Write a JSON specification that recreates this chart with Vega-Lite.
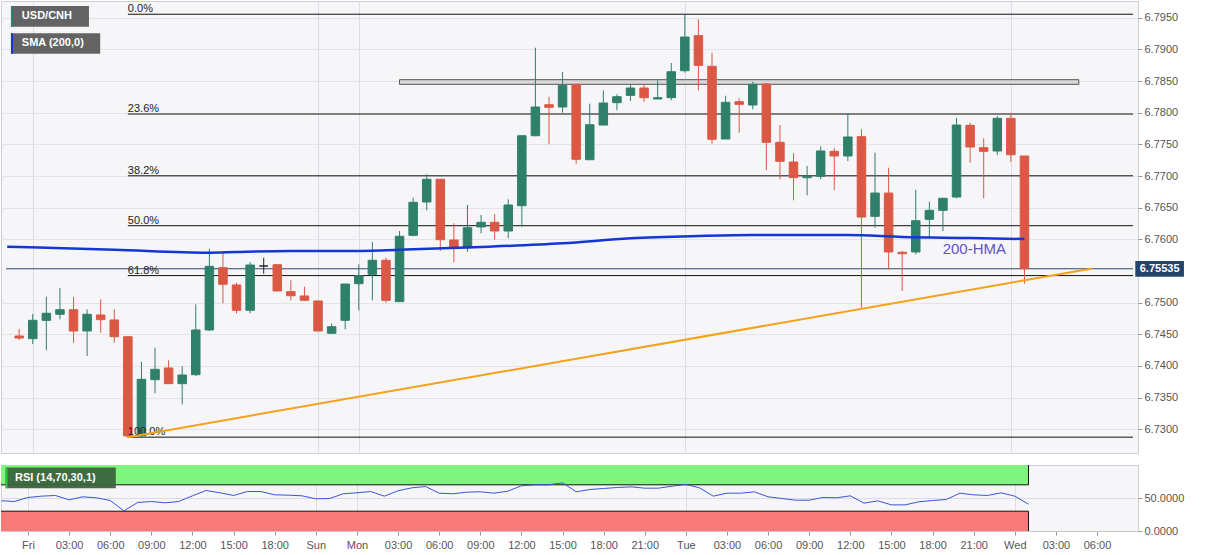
{
  "$schema": "https://vega.github.io/schema/vega-lite/v6.json",
  "padding": 0,
  "spacing": 10,
  "background": "#ffffff",
  "config": {
    "padding": 0,
    "view": {"fill": "#f6f6f8", "stroke": "#cfcfd6"},
    "font": "Liberation Sans",
    "text": {"font": "Liberation Sans"},
    "axis": {"labelOverlap": false, "title": null, "labelFont": "Liberation Sans", "labelFontSize": 11, "labelColor": "#555555", "tickColor": "#999999", "tickSize": 4},
    "axisY": {"format": ".4f", "labelOverlap": false, "orient": "right", "domain": false, "labelPadding": 2, "gridColor": "#e3e3e8"}
  },
  "datasets": {
    "candles": [
      {"i":-1,"o":6.74473,"h":6.74584,"l":6.7441,"c":6.74441},
      {"i":0,"o":6.74431,"h":6.7482,"l":6.74347,"c":6.74721},
      {"i":1,"o":6.7472,"h":6.75094,"l":6.74247,"c":6.74832},
      {"i":2,"o":6.74816,"h":6.75231,"l":6.74737,"c":6.74888},
      {"i":3,"o":6.74888,"h":6.75089,"l":6.74367,"c":6.74552},
      {"i":4,"o":6.74552,"h":6.74895,"l":6.74157,"c":6.74816},
      {"i":5,"o":6.74805,"h":6.75053,"l":6.74525,"c":6.74731},
      {"i":6,"o":6.74726,"h":6.74895,"l":6.74367,"c":6.74462},
      {"i":7,"o":6.74462,"h":6.74462,"l":6.72862,"c":6.72894},
      {"i":8,"o":6.72894,"h":6.74067,"l":6.72867,"c":6.73789},
      {"i":9,"o":6.73783,"h":6.74288,"l":6.73568,"c":6.73947},
      {"i":10,"o":6.73968,"h":6.74089,"l":6.7372,"c":6.7372},
      {"i":11,"o":6.7372,"h":6.73995,"l":6.73394,"c":6.73857},
      {"i":12,"o":6.73862,"h":6.74974,"l":6.73841,"c":6.74568},
      {"i":13,"o":6.74568,"h":6.75852,"l":6.74552,"c":6.75574},
      {"i":14,"o":6.75552,"h":6.75815,"l":6.7499,"c":6.7529},
      {"i":15,"o":6.75279,"h":6.75315,"l":6.74832,"c":6.74879},
      {"i":16,"o":6.74879,"h":6.75642,"l":6.74832,"c":6.75594},
      {"i":17,"o":6.75579,"h":6.7571,"l":6.75457,"c":6.75579},
      {"i":18,"o":6.75599,"h":6.75599,"l":6.75184,"c":6.75184},
      {"i":19,"o":6.75173,"h":6.75353,"l":6.75037,"c":6.75109},
      {"i":20,"o":6.75105,"h":6.75252,"l":6.75037,"c":6.75037},
      {"i":21,"o":6.75026,"h":6.75026,"l":6.74552,"c":6.74552},
      {"i":22,"o":6.74516,"h":6.74674,"l":6.74516,"c":6.7462},
      {"i":23,"o":6.74721,"h":6.75294,"l":6.74579,"c":6.75294},
      {"i":24,"o":6.75299,"h":6.75605,"l":6.74879,"c":6.75425},
      {"i":25,"o":6.75447,"h":6.75958,"l":6.75037,"c":6.75669},
      {"i":26,"o":6.75669,"h":6.7571,"l":6.74999,"c":6.75037},
      {"i":27,"o":6.75015,"h":6.76131,"l":6.75015,"c":6.76048},
      {"i":28,"o":6.76063,"h":6.76657,"l":6.76048,"c":6.76585},
      {"i":29,"o":6.76589,"h":6.77027,"l":6.76458,"c":6.76948},
      {"i":30,"o":6.76948,"h":6.76948,"l":6.75815,"c":6.75994},
      {"i":31,"o":6.75989,"h":6.76253,"l":6.75637,"c":6.75879},
      {"i":32,"o":6.75868,"h":6.76542,"l":6.75804,"c":6.76183},
      {"i":33,"o":6.76195,"h":6.76384,"l":6.76095,"c":6.76269},
      {"i":34,"o":6.76269,"h":6.76395,"l":6.75994,"c":6.76131},
      {"i":35,"o":6.76131,"h":6.76632,"l":6.76016,"c":6.76542},
      {"i":36,"o":6.76531,"h":6.77636,"l":6.76199,"c":6.77636},
      {"i":37,"o":6.77636,"h":6.79026,"l":6.77627,"c":6.7809},
      {"i":38,"o":6.78126,"h":6.78252,"l":6.77501,"c":6.78085},
      {"i":39,"o":6.7809,"h":6.78642,"l":6.78,"c":6.78432},
      {"i":40,"o":6.78448,"h":6.78448,"l":6.77194,"c":6.77264},
      {"i":41,"o":6.77257,"h":6.78142,"l":6.77257,"c":6.7781},
      {"i":42,"o":6.77805,"h":6.78353,"l":6.77805,"c":6.78153},
      {"i":43,"o":6.78158,"h":6.7829,"l":6.78038,"c":6.78252},
      {"i":44,"o":6.78274,"h":6.78437,"l":6.78184,"c":6.7839},
      {"i":45,"o":6.7839,"h":6.78448,"l":6.78173,"c":6.78237},
      {"i":46,"o":6.78216,"h":6.78511,"l":6.78216,"c":6.78237},
      {"i":47,"o":6.78237,"h":6.78785,"l":6.78195,"c":6.78647},
      {"i":48,"o":6.78663,"h":6.79543,"l":6.78631,"c":6.79195},
      {"i":49,"o":6.79216,"h":6.79475,"l":6.78353,"c":6.78748},
      {"i":50,"o":6.78732,"h":6.78947,"l":6.7751,"c":6.7758},
      {"i":51,"o":6.77584,"h":6.78268,"l":6.77584,"c":6.78164},
      {"i":52,"o":6.78173,"h":6.78227,"l":6.77684,"c":6.78132},
      {"i":53,"o":6.78121,"h":6.78489,"l":6.78053,"c":6.78448},
      {"i":54,"o":6.78453,"h":6.78473,"l":6.7709,"c":6.77532},
      {"i":55,"o":6.77532,"h":6.77805,"l":6.76948,"c":6.77232},
      {"i":56,"o":6.77221,"h":6.77358,"l":6.76616,"c":6.76973},
      {"i":57,"o":6.76973,"h":6.77158,"l":6.76695,"c":6.76995},
      {"i":58,"o":6.76995,"h":6.77469,"l":6.76948,"c":6.77395},
      {"i":59,"o":6.7739,"h":6.77447,"l":6.76774,"c":6.77316},
      {"i":60,"o":6.77316,"h":6.77984,"l":6.77237,"c":6.77616},
      {"i":61,"o":6.77621,"h":6.77738,"l":6.7492,"c":6.76352},
      {"i":62,"o":6.76363,"h":6.77368,"l":6.76183,"c":6.76731},
      {"i":63,"o":6.76731,"h":6.77131,"l":6.75526,"c":6.758},
      {"i":64,"o":6.75795,"h":6.75815,"l":6.75184,"c":6.75773},
      {"i":65,"o":6.758,"h":6.76784,"l":6.75763,"c":6.76294},
      {"i":66,"o":6.76316,"h":6.76594,"l":6.76016,"c":6.76458},
      {"i":67,"o":6.76458,"h":6.76648,"l":6.76131,"c":6.76648},
      {"i":68,"o":6.76668,"h":6.77921,"l":6.76648,"c":6.77805},
      {"i":69,"o":6.778,"h":6.77842,"l":6.7721,"c":6.77458},
      {"i":70,"o":6.77447,"h":6.77595,"l":6.76648,"c":6.7739},
      {"i":71,"o":6.77395,"h":6.77948,"l":6.77332,"c":6.77911},
      {"i":72,"o":6.77911,"h":6.78,"l":6.77221,"c":6.77336},
      {"i":73,"o":6.77316,"h":6.77316,"l":6.75299,"c":6.75535}
    ],
    "sma": [
      {"i":-1.88,"v":6.75883},{"i":6,"v":6.75836},{"i":13,"v":6.75789},{"i":15,"v":6.758},
      {"i":19,"v":6.75815},{"i":23,"v":6.75815},{"i":28,"v":6.75842},{"i":33,"v":6.75879},
      {"i":39,"v":6.75937},{"i":44,"v":6.76016},{"i":49,"v":6.76052},{"i":53,"v":6.76068},
      {"i":60,"v":6.76068},{"i":64,"v":6.76037},{"i":69,"v":6.76021},{"i":73,"v":6.76005}
    ],
    "fib": [
      {"level":"0.0%","price":6.79555},
      {"level":"23.6%","price":6.77979},
      {"level":"38.2%","price":6.77003},
      {"level":"50.0%","price":6.76215},
      {"level":"61.8%","price":6.75427},
      {"level":"100.0%","price":6.72875}
    ],
    "trend": [
      {"i":7,"price":6.72875},
      {"i":78,"price":6.7554}
    ],
    "rsi": [
      {"i":-1.93,"r":45.8},{"i":-1,"r":44.7},{"i":0,"r":50.8},{"i":1,"r":52.8},{"i":2,"r":53.8},
      {"i":3,"r":47.2},{"i":4,"r":51.8},{"i":5,"r":50.3},{"i":6,"r":46.2},{"i":7,"r":30.6},
      {"i":8,"r":43.2},{"i":9,"r":44.7},{"i":10,"r":42.7},{"i":11,"r":44.7},{"i":12,"r":53.3},
      {"i":13,"r":61.4},{"i":14,"r":57.9},{"i":15,"r":53.8},{"i":16,"r":59.8},{"i":17,"r":59.8},
      {"i":18,"r":54.8},{"i":19,"r":54.3},{"i":20,"r":53.3},{"i":21,"r":48.8},{"i":22,"r":49.2},
      {"i":23,"r":56.4},{"i":24,"r":57.9},{"i":25,"r":59.8},{"i":26,"r":52.8},{"i":27,"r":60.9},
      {"i":28,"r":65.4},{"i":29,"r":67.4},{"i":30,"r":57.3},{"i":31,"r":56.4},{"i":32,"r":58.8},
      {"i":33,"r":59.4},{"i":34,"r":57.3},{"i":35,"r":60.3},{"i":36,"r":68.5},{"i":37,"r":70},
      {"i":38,"r":70},{"i":39,"r":73},{"i":40,"r":59.4},{"i":41,"r":62.9},{"i":42,"r":64.4},
      {"i":43,"r":65.9},{"i":44,"r":66.9},{"i":45,"r":64.9},{"i":46,"r":64.9},{"i":47,"r":67.9},
      {"i":48,"r":70.5},{"i":49,"r":65.4},{"i":50,"r":52.8},{"i":51,"r":57.3},{"i":52,"r":57.3},
      {"i":53,"r":59.3},{"i":54,"r":51.8},{"i":55,"r":49.2},{"i":56,"r":46.7},{"i":57,"r":46.7},
      {"i":58,"r":50.8},{"i":59,"r":50.3},{"i":60,"r":53.3},{"i":61,"r":42.2},{"i":62,"r":45.7},
      {"i":63,"r":39.6},{"i":64,"r":39.6},{"i":65,"r":44.2},{"i":66,"r":46.2},{"i":67,"r":47.7},
      {"i":68,"r":57.3},{"i":69,"r":54.8},{"i":70,"r":53.8},{"i":71,"r":57.8},{"i":72,"r":52.8},
      {"i":73,"r":40.7}
    ]
  },
  "vconcat": [
    {
      "width": 1137,
      "height": 452,
      "layer": [
        {
          "data": {"name": "fib"},
          "mark": {"type": "rule", "color": "#111111", "strokeWidth": 1},
          "encoding": {
            "x": {"datum": 7, "type": "quantitative",
                  "scale": {"domain": [-1.97, 80.99], "nice": false, "zero": false},
                  "axis": {"values": [0, 21, 24, 48, 72], "tickCount": 40, "labels": false, "ticks": false, "domain": false, "grid": true, "gridColor": "#dcdce2", "title": null}},
            "x2": {"datum": 80.99},
            "y": {"field": "price", "type": "quantitative",
                  "scale": {"domain": [6.72625, 6.79764], "nice": false, "zero": false},
                  "axis": {"orient": "right", "values": [6.73, 6.735, 6.74, 6.745, 6.75, 6.76, 6.765, 6.77, 6.775, 6.78, 6.785, 6.79, 6.795],
                           "tickCount": 30, "format": ".4f", "grid": true, "gridColor": "#e3e3e8", "domain": false, "tickSize": 4, "tickColor": "#999999",
                           "labelOverlap": false, "labelFontSize": 11, "labelColor": "#555555", "labelPadding": 2, "labelFont": "Liberation Sans", "title": null}}
          }
        },
        {
          "data": {"values": [{}]},
          "mark": {"type": "rect", "fill": "#d9d9dc", "stroke": "#555555", "strokeWidth": 1},
          "encoding": {
            "x": {"datum": 27, "type": "quantitative"}, "x2": {"datum": 77},
            "y": {"datum": 6.78448, "type": "quantitative"}, "y2": {"datum": 6.78521}
          }
        },
        {
          "data": {"values": [{}]},
          "mark": {"type": "rule", "color": "#2d4a70", "strokeWidth": 1},
          "encoding": {
            "x": {"datum": -1.97, "type": "quantitative"}, "x2": {"datum": 80.99},
            "y": {"datum": 6.75535, "type": "quantitative"}
          }
        },
        {
          "data": {"name": "candles"},
          "mark": {"type": "rule", "strokeWidth": 1, "clip": true},
          "encoding": {
            "x": {"field": "i", "type": "quantitative"},
            "y": {"field": "l", "type": "quantitative"},
            "y2": {"field": "h"},
            "color": {"condition": [{"test": "datum.c == datum.o", "value": "#222222"}, {"test": "datum.c > datum.o", "value": "#2f806b"}], "value": "#db5844"}
          }
        },
        {
          "data": {"name": "candles"},
          "mark": {"type": "bar", "size": 8.5, "strokeWidth": 1, "clip": true},
          "encoding": {
            "x": {"field": "i", "type": "quantitative"},
            "y": {"field": "o", "type": "quantitative"},
            "y2": {"field": "c"},
            "color": {"condition": [{"test": "datum.c == datum.o", "value": "#222222"}, {"test": "datum.c > datum.o", "value": "#2f806b"}], "value": "#db5844"},
            "stroke": {"condition": [{"test": "datum.c == datum.o", "value": "#222222"}, {"test": "datum.c > datum.o", "value": "#2f806b"}], "value": "#db5844"}
          }
        },
        {
          "data": {"name": "fib"},
          "mark": {"type": "text", "align": "left", "baseline": "alphabetic", "dy": -2, "fontSize": 11, "color": "#222222"},
          "encoding": {
            "x": {"datum": 7, "type": "quantitative"},
            "y": {"field": "price", "type": "quantitative"},
            "text": {"field": "level"}
          }
        },
        {
          "data": {"name": "sma"},
          "mark": {"type": "line", "color": "#1437d4", "strokeWidth": 2.5, "interpolate": "monotone", "clip": true},
          "encoding": {
            "x": {"field": "i", "type": "quantitative"},
            "y": {"field": "v", "type": "quantitative"}
          }
        },
        {
          "data": {"name": "trend"},
          "mark": {"type": "line", "color": "#f6a11d", "strokeWidth": 2},
          "encoding": {
            "x": {"field": "i", "type": "quantitative"},
            "y": {"field": "price", "type": "quantitative"}
          }
        },
        {
          "data": {"values": [{}]},
          "mark": {"type": "text", "text": "200-HMA", "align": "left", "baseline": "middle", "fontSize": 15, "color": "#6452c8"},
          "encoding": {
            "x": {"datum": 66.98, "type": "quantitative"},
            "y": {"datum": 6.75842, "type": "quantitative"}
          }
        },
        {
          "data": {"values": [{}]},
          "mark": {"type": "rect", "fill": "#636363"},
          "encoding": {
            "x": {"datum": -1.605, "type": "quantitative"}, "x2": {"datum": 4.137},
            "y": {"datum": 6.79685, "type": "quantitative"}, "y2": {"datum": 6.79358}
          }
        },
        {
          "data": {"values": [{}]},
          "mark": {"type": "rect", "fill": "#2f806b"},
          "encoding": {
            "x": {"datum": -1.605, "type": "quantitative"}, "x2": {"datum": -1.46},
            "y": {"datum": 6.79685, "type": "quantitative"}, "y2": {"datum": 6.79358}
          }
        },
        {
          "data": {"values": [{}]},
          "mark": {"type": "text", "text": "USD/CNH", "align": "left", "baseline": "middle", "fontSize": 11, "fontWeight": "bold", "color": "#ffffff"},
          "encoding": {
            "x": {"datum": -0.803, "type": "quantitative"},
            "y": {"datum": 6.79522, "type": "quantitative"}
          }
        },
        {
          "data": {"values": [{}]},
          "mark": {"type": "rect", "fill": "#636363"},
          "encoding": {
            "x": {"datum": -1.605, "type": "quantitative"}, "x2": {"datum": 4.962},
            "y": {"datum": 6.79254, "type": "quantitative"}, "y2": {"datum": 6.78931}
          }
        },
        {
          "data": {"values": [{}]},
          "mark": {"type": "rect", "fill": "#1437d4"},
          "encoding": {
            "x": {"datum": -1.605, "type": "quantitative"}, "x2": {"datum": -1.46},
            "y": {"datum": 6.79254, "type": "quantitative"}, "y2": {"datum": 6.78931}
          }
        },
        {
          "data": {"values": [{}]},
          "mark": {"type": "text", "text": "SMA (200,0)", "align": "left", "baseline": "middle", "fontSize": 11, "fontWeight": "bold", "color": "#ffffff"},
          "encoding": {
            "x": {"datum": -0.803, "type": "quantitative"},
            "y": {"datum": 6.79093, "type": "quantitative"}
          }
        },
        {
          "data": {"values": [{}]},
          "mark": {"type": "rect", "fill": "#24446b"},
          "encoding": {
            "x": {"datum": 81.16, "type": "quantitative"}, "x2": {"datum": 84.74},
            "y": {"datum": 6.75657, "type": "quantitative"}, "y2": {"datum": 6.7541}
          }
        },
        {
          "data": {"values": [{}]},
          "mark": {"type": "text", "text": "6.75535", "align": "center", "baseline": "middle", "fontSize": 11, "fontWeight": "bold", "color": "#ffffff"},
          "encoding": {
            "x": {"datum": 82.95, "type": "quantitative"},
            "y": {"datum": 6.75535, "type": "quantitative"}
          }
        }
      ]
    },
    {
      "width": 1137,
      "height": 66,
      "layer": [
        {
          "data": {"values": [{}]},
          "mark": {"type": "rect", "fill": "#7ff47f"},
          "encoding": {
            "x": {"datum": -1.97, "type": "quantitative",
                  "scale": {"domain": [-1.97, 80.99], "nice": false, "zero": false},
                  "axis": {"values": [0,3,6,9,12,15,18,21,24,27,30,33,36,39,42,45,48,51,54,57,60,63,66,69,72,75,78],
                           "tickCount": 60,
                           "labelExpr": "datum.value==0?'Fri':datum.value==21?'Sun':datum.value==24?'Mon':datum.value==48?'Tue':datum.value==72?'Wed':(((datum.value%24)<10?'0':'')+(datum.value%24)+':00')",
                           "grid": true, "gridColor": "#dcdce2",
                           "gridOpacity": {"condition": {"test": "indexof([0,21,24,48,72], datum.value) >= 0", "value": 1}, "value": 0},
                           "tickSize": 4, "tickColor": "#999999", "domain": true, "domainColor": "#c8c8cc",
                           "labelOverlap": false, "labelFontSize": 11, "labelColor": "#555555", "labelPadding": 4, "labelFont": "Liberation Sans", "labelFlush": false, "title": null}},
            "x2": {"datum": 73},
            "y": {"datum": 70, "type": "quantitative",
                  "scale": {"domain": [0, 100], "nice": false, "zero": false},
                  "axis": {"orient": "right", "values": [0, 50], "tickCount": 10, "format": ".4f", "grid": true, "gridColor": "#dcdce2", "domain": false,
                           "labelOverlap": false, "tickSize": 4, "tickColor": "#999999", "labelFontSize": 11, "labelColor": "#555555", "labelPadding": 2, "labelFont": "Liberation Sans", "title": null}},
            "y2": {"datum": 100}
          }
        },
        {
          "data": {"values": [{}]},
          "mark": {"type": "rect", "fill": "#fa7a7a"},
          "encoding": {
            "x": {"datum": -1.97, "type": "quantitative"}, "x2": {"datum": 73},
            "y": {"datum": 0, "type": "quantitative"}, "y2": {"datum": 30}
          }
        },
        {
          "data": {"values": [{"lv": 70}, {"lv": 30}]},
          "mark": {"type": "rule", "color": "#111111", "strokeWidth": 1},
          "encoding": {
            "x": {"datum": -1.97, "type": "quantitative"}, "x2": {"datum": 73},
            "y": {"field": "lv", "type": "quantitative"}
          }
        },
        {
          "data": {"values": [{"a": 70, "b": 100}, {"a": 0, "b": 30}]},
          "mark": {"type": "rule", "color": "#111111", "strokeWidth": 1},
          "encoding": {
            "x": {"datum": 73, "type": "quantitative"},
            "y": {"field": "a", "type": "quantitative"}, "y2": {"field": "b"}
          }
        },
        {
          "data": {"name": "rsi"},
          "mark": {"type": "line", "color": "#3a55d6", "strokeWidth": 1, "clip": true},
          "encoding": {
            "x": {"field": "i", "type": "quantitative"},
            "y": {"field": "r", "type": "quantitative"}
          }
        },
        {
          "data": {"values": [{}]},
          "mark": {"type": "rect", "fill": "#3b633d", "opacity": 0.95},
          "encoding": {
            "x": {"datum": -1.634, "type": "quantitative"}, "x2": {"datum": 6.406},
            "y": {"datum": 96.2, "type": "quantitative"}, "y2": {"datum": 64.8}
          }
        },
        {
          "data": {"values": [{}]},
          "mark": {"type": "rect", "fill": "#2fc42f"},
          "encoding": {
            "x": {"datum": -1.634, "type": "quantitative"}, "x2": {"datum": -1.49},
            "y": {"datum": 96.2, "type": "quantitative"}, "y2": {"datum": 64.8}
          }
        },
        {
          "data": {"values": [{}]},
          "mark": {"type": "text", "text": "RSI (14,70,30,1)", "align": "left", "baseline": "middle", "fontSize": 11, "fontWeight": "bold", "color": "#ffffff"},
          "encoding": {
            "x": {"datum": -0.95, "type": "quantitative"},
            "y": {"datum": 80.6, "type": "quantitative"}
          }
        }
      ]
    }
  ]
}
